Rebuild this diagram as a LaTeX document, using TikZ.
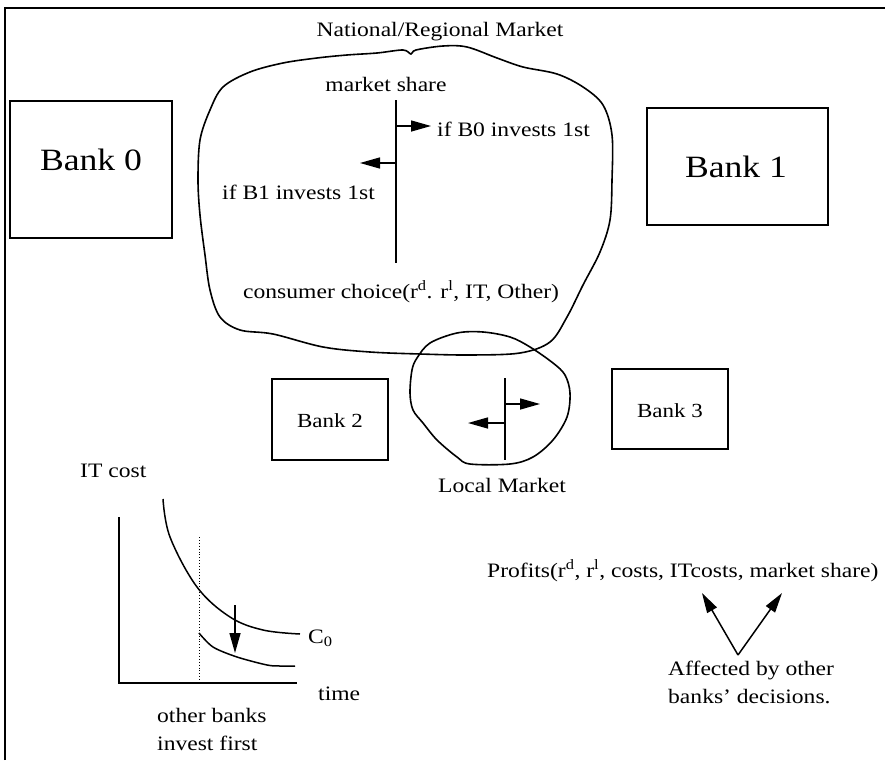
\documentclass[tikz,border=0pt]{standalone}
\usepackage{fontspec}
\setmainfont[FakeStretch=1.15]{Liberation Serif}
\usetikzlibrary{arrows.meta}
\begin{document}
\begin{tikzpicture}[x=1pt,y=-1pt,
  lbl/.style={font=\fontsize{20.5}{24}\selectfont, inner sep=0pt},
  bigl/.style={font=\fontsize{31}{36}\selectfont, inner sep=0pt},
  midl/.style={font=\fontsize{20}{24}\selectfont, inner sep=0pt},
  bankbox/.style={draw, line width=1.4pt, inner sep=0pt},
  arr/.style={-{Triangle[length=20pt,width=11pt]}, line width=1.5pt},
  ln/.style={line width=1.5pt},
  blob/.style={line width=1.6pt}]
\useasboundingbox (0,0) rectangle (885,760);
% frame
\draw[line width=1.3pt] (5,760) -- (5,8) -- (885,8);

% national market blob
\draw[blob] plot[smooth cycle, tension=0.55] coordinates {
 (347,55) (377,53) (403,50) (411,54) (416,50) (443,46) (467,47) (497,58) (523,67)
 (557,74) (583,87) (603,105) (612,135) (612,180) (610,220) (600,252) (583,285)
 (567,317) (550,342) (520,353) (470,355) (420,354) (370,352) (323,347) (273,334)
 (240,330) (220,317) (210,290) (205,255) (200,215) (198,180) (200,140) (210,110)
 (223,87) (250,72) (283,63) (317,58)};
% local market blob
\draw[blob] plot[smooth cycle, tension=0.55] coordinates {
 (430,343) (457,333) (483,332) (510,337) (530,347) (553,363) (565,375) (570,393)
 (567,417) (553,440) (533,457) (510,464) (470,464) (457,457) (437,440) (423,423)
 (413,410) (410,393) (412,370) (417,358)};

\node[lbl, anchor=base] (nat) at (440,37) {National/Regional Market};
\node[lbl, anchor=base] (ms) at (386,91) {market share};
\coordinate (mstop) at (396,100);
\coordinate (msbot) at (396,263);
\draw[ln] (mstop) -- (msbot);
\coordinate (msr0) at (396,126);
\coordinate (msr1) at (431,126);
\coordinate (msl0) at (396,163);
\coordinate (msl1) at (360,163);
\draw[arr] (msr0) -- (msr1);
\draw[arr] (msl0) -- (msl1);
\node[lbl, anchor=base west] (b0first) at (437,136) {if B0 invests 1st};
\node[lbl, anchor=base west] (b1first) at (222,199) {if B1 invests 1st};
\node[lbl, anchor=base west] (cc) at (243,298) {consumer choice(r\textsuperscript{d}. r\textsuperscript{l}, IT, Other)};

% banks
\node[bankbox, minimum width=162pt, minimum height=137pt] (b0box) at (91,169.5) {};
\node[bigl, anchor=base] (b0) at (91,170) {Bank 0};
\node[bankbox, minimum width=181pt, minimum height=117pt] (b1box) at (737.5,166.5) {};
\node[bigl, anchor=base] (b1) at (736,177) {Bank 1};
\node[bankbox, minimum width=116pt, minimum height=81pt] (b2box) at (330,419.5) {};
\node[midl, anchor=base] (b2) at (330,427) {Bank 2};
\node[bankbox, minimum width=116pt, minimum height=80pt] (b3box) at (670,409) {};
\node[midl, anchor=base] (b3) at (670,417) {Bank 3};

% local market
\coordinate (lmtop) at (505,378);
\coordinate (lmbot) at (505,460);
\draw[ln] (lmtop) -- (lmbot);
\coordinate (lmr0) at (505,404);
\coordinate (lmr1) at (540,404);
\coordinate (lml0) at (505,423);
\coordinate (lml1) at (468,423);
\draw[arr] (lmr0) -- (lmr1);
\draw[arr] (lml0) -- (lml1);
\node[lbl, anchor=base] (lm) at (502,492) {Local Market};

% IT cost graph
\node[lbl, anchor=base west] (itc) at (80,477) {IT cost};
\coordinate (ytop) at (119,517);
\coordinate (orig) at (119,683);
\coordinate (xend) at (297,683);
\draw[ln] (ytop) -- (orig) -- (xend);
\coordinate (dtop) at (199,537);
\coordinate (dbot) at (199,683);
\draw[line width=0.9pt, dotted] (dtop) -- (dbot);
\draw[ln] plot[smooth, tension=0.6] coordinates {(163,499) (170,537) (197,587) (230,617) (263,630) (300,634)};
\draw[ln] plot[smooth, tension=0.5] coordinates {(199,633) (213,647) (237,657) (267,665) (280,666) (295,666)};
\coordinate (dn0) at (235,605);
\coordinate (dn1) at (235,653);
\draw[arr] (dn0) -- (dn1);
\node[lbl, anchor=base west] (c0) at (308,643) {C\textsubscript{0}};
\node[lbl, anchor=base west] (time) at (318,700) {time};
\node[lbl, anchor=base west] (ob1) at (157,722) {other banks};
\node[lbl, anchor=base west] (ob2) at (157,750) {invest first};

% profits
\node[lbl, anchor=base west] (prof) at (487,577) {Profits(r\textsuperscript{d}, r\textsuperscript{l}, costs, ITcosts, market share)};
\coordinate (apex) at (738,655);
\coordinate (tipl) at (702,593);
\coordinate (tipr) at (782,593);
\draw[arr] (apex) -- (tipl);
\draw[arr] (apex) -- (tipr);
\node[lbl, anchor=base west] (aff1) at (668,675) {Affected by other};
\node[lbl, anchor=base west] (aff2) at (668,703) {banks’ decisions.};
\end{tikzpicture}
\end{document}
